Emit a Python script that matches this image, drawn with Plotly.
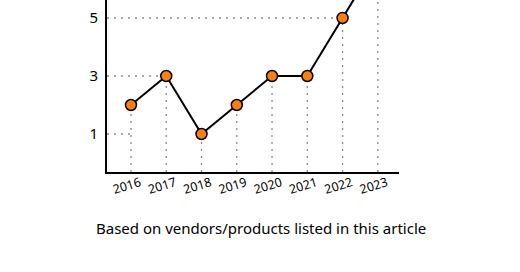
import plotly.graph_objects as go

years = [2016, 2017, 2018, 2019, 2020, 2021, 2022, 2023]
counts = [2, 3, 1, 2, 3, 3, 5, 7]
y_ticks = [1, 3, 5]
caption = "Based on vendors/products listed in this article"

x_range = [2015.32, 2023.6]
y_range = [-0.31, 5.62]

fig = go.Figure()

dot = dict(color="#8a8a8a", width=1.3, dash="2px,5px")
shapes = []
# vertical drop lines from each point to the x axis
for yr, v in zip(years, counts):
    shapes.append(dict(type="line", xref="x", yref="y", x0=yr, x1=yr,
                       y0=y_range[0], y1=min(v, y_range[1]),
                       line=dot, layer="below"))
# horizontal lines from the y axis to the first point reaching the tick value
for t in y_ticks:
    end = next(yr for yr, v in zip(years, counts) if v >= t)
    shapes.append(dict(type="line", xref="x", yref="y", x0=x_range[0], x1=end,
                       y0=t, y1=t, line=dot, layer="below"))

fig.add_trace(go.Scatter(
    x=years, y=counts, mode="lines+markers",
    line=dict(color="black", width=2),
    marker=dict(size=11, color="#ff7f0e", line=dict(color="black", width=1.5)),
    showlegend=False,
))

fig.update_layout(
    width=520, height=272,
    margin=dict(l=107, r=121, t=0, b=100),
    paper_bgcolor="white", plot_bgcolor="white",
    font=dict(family="Noto Sans", color="black"),
    shapes=shapes,
    xaxis=dict(range=x_range, tickvals=years, ticktext=[str(y) for y in years],
               tickangle=-17, showgrid=False, zeroline=False,
               showline=True, linecolor="black", linewidth=2,
               tickfont=dict(size=12.5), ticks="", ticklabelstandoff=-3,
               ticklabelshift=9),
    yaxis=dict(range=y_range, tickvals=y_ticks, showgrid=False, zeroline=False,
               showline=True, linecolor="black", linewidth=2,
               tickfont=dict(size=15), ticks="", ticklabelstandoff=4),
    annotations=[dict(text=caption, xref="paper", yref="paper", x=0.529, y=-0.326,
                      xanchor="center", yanchor="middle", showarrow=False,
                      font=dict(size=15, color="black"))],
)

fig.write_html("out.html")
